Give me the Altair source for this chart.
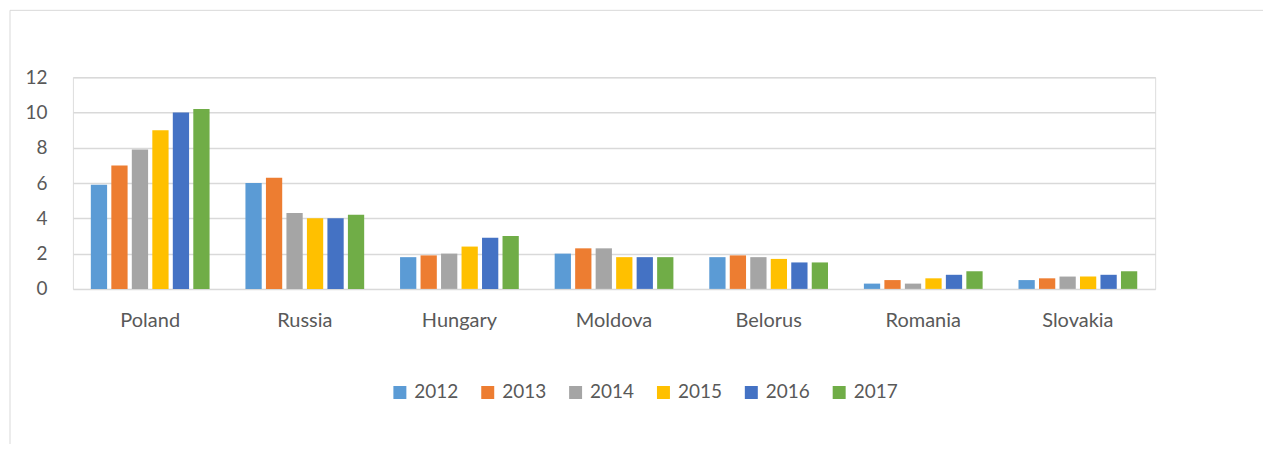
import altair as alt
import pandas as pd

countries = ["Poland", "Russia", "Hungary", "Moldova", "Belorus", "Romania", "Slovakia"]
years = ["2012", "2013", "2014", "2015", "2016", "2017"]
v2012 = [5.9, 6.0, 1.8, 2.0, 1.8, 0.3, 0.5]
v2013 = [7.0, 6.3, 1.9, 2.3, 1.9, 0.5, 0.6]
v2014 = [7.9, 4.3, 2.0, 2.3, 1.8, 0.3, 0.7]
v2015 = [9.0, 4.0, 2.4, 1.8, 1.7, 0.6, 0.7]
v2016 = [10.0, 4.0, 2.9, 1.8, 1.5, 0.8, 0.8]
v2017 = [10.2, 4.2, 3.0, 1.8, 1.5, 1.0, 1.0]
colors = ["#5B9BD5", "#ED7D31", "#A5A5A5", "#FFC000", "#4472C4", "#70AD47"]
y_ticks = [0, 2, 4, 6, 8, 10, 12]

series = [v2012, v2013, v2014, v2015, v2016, v2017]
rows = []
for yr, vals in zip(years, series):
    for c, v in zip(countries, vals):
        rows.append({"country": c, "year": yr, "value": v})
df = pd.DataFrame(rows)

FONT = "Lato"
GREY = "#595959"

bars = alt.Chart(df).mark_bar().encode(
    x=alt.X("country:N", sort=countries,
            scale=alt.Scale(paddingInner=0.232, paddingOuter=0.116),
            axis=alt.Axis(title=None, labelAngle=0, domain=False, ticks=False,
                          labelPadding=22, labelFontSize=20, labelColor=GREY,
                          labelFont=FONT, grid=False)),
    xOffset=alt.XOffset("year:N", sort=years,
                        scale=alt.Scale(paddingInner=0.206, paddingOuter=0)),
    y=alt.Y("value:Q", scale=alt.Scale(domain=[0, 12], nice=False),
            axis=alt.Axis(title=None, values=y_ticks, domain=False, ticks=False,
                          labelPadding=26, labelFontSize=19, labelColor=GREY,
                          labelFont=FONT, grid=True, gridColor="#d9d9d9",
                          gridWidth=1.5)),
    color=alt.Color("year:N", sort=years,
                    scale=alt.Scale(domain=years, range=colors),
                    legend=alt.Legend(title=None, orient="none", direction="horizontal",
                                      legendX=318, legendY=306, symbolType="square",
                                      symbolSize=169, symbolStrokeWidth=0,
                                      labelFontSize=19, labelColor=GREY, labelFont=FONT,
                                      labelOffset=5, columnPadding=19, padding=0)),
)

frame = alt.Chart(alt.Data(values=[{"a": 1}])).mark_rect(
    fill=None, stroke="#d9d9d9", strokeWidth=1
).encode(
    x=alt.value(-63), x2=alt.value(1400), y=alt.value(-67), y2=alt.value(600)
)

chart = alt.layer(frame, bars).properties(
    width=1084, height=212,
    autosize=alt.AutoSizeParams(type="none"),
    padding={"left": 65, "top": 69, "right": 108, "bottom": 155},
).configure_view(stroke=None).configure(background="white")

chart.save("out.html", embed_options={"renderer": "svg", "actions": False})
